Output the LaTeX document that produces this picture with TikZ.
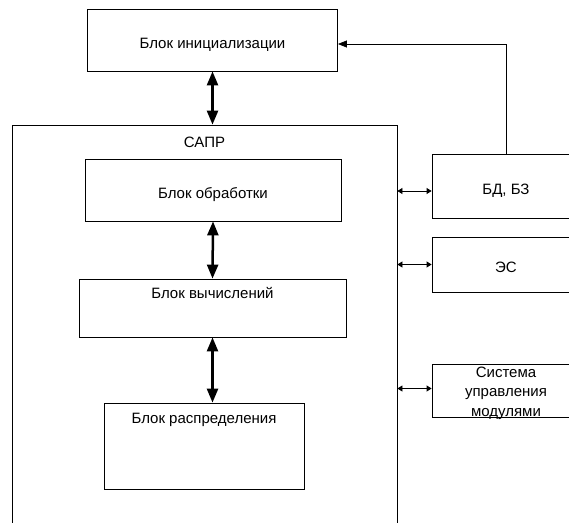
\documentclass[tikz,border=0pt]{standalone}
\usepackage{fontspec}
\setmainfont{Liberation Sans}
\usetikzlibrary{arrows.meta,positioning}
\tikzset{blk/.style={draw=black, line width=.8pt, inner sep=3pt, align=center, text height=16pt, text depth=0pt, font=\fontsize{15}{19.5}\selectfont}}
\tikzset{txt/.style={inner sep=0pt, align=center, font=\fontsize{15}{19.5}\selectfont}}
\tikzset{bigarr/.style={line width=2.5pt, {Triangle[length=14pt,width=11pt]}-{Triangle[length=14pt,width=11pt]}}}
\tikzset{smallarr/.style={line width=.8pt, {Triangle[length=5pt,width=6pt]}-{Triangle[length=5pt,width=6pt]}}}
\tikzset{feed/.style={line width=.8pt, -{Triangle[length=9pt,width=7pt]}}}

\begin{document}
\begin{tikzpicture}[x=1pt,y=-1pt]

  \useasboundingbox (0,0) rectangle (569,522);
  \clip (0,0) rectangle (569,522);

  \node[blk, minimum width=250, minimum height=62] (init) at (212.5,40) {Блок инициализации};
  \node[blk, minimum width=385, minimum height=435] (sapr) at (204.5,342.5) {};
  \node[txt] (saprlbl) at (204.5,142) {САПР};

  \node[blk, minimum width=256, minimum height=62] (proc) at (213,190) {Блок обработки};
  \node[blk, minimum width=267, minimum height=58] (calc) at (212.5,308) {};
  \node[txt, anchor=base] (calclbl) at (212.5,298) {Блок вычислений};
  \node[blk, minimum width=200, minimum height=86] (dist) at (204,446) {};
  \node[txt, anchor=base] (distlbl) at (204,423) {Блок распределения};

  \node[blk, minimum width=148, minimum height=64] (bdbz) at (506,186) {БД, БЗ};
  \node[blk, minimum width=148, minimum height=55] (es) at (506,264.5) {ЭС};
  \node[blk, minimum width=148, minimum height=53] (sum) at (506,390.5) {};
  \node[txt] (sumlbl) at (506,393) {Система\\управления\\модулями};

    \draw[bigarr] (init.south) -- (init.south |- sapr.north);
    \draw[bigarr] (proc.south) -- (calc.north);
    \draw[bigarr] (calc.south) -- (calc.south |- dist.north);

    \draw[smallarr] ([yshift=-5pt]bdbz.west -| sapr.east) -- ([yshift=-5pt]bdbz.west);
    \draw[smallarr] (es.west -| sapr.east) -- (es.west);
    \draw[smallarr] ([yshift=2pt]sum.west -| sapr.east) -- ([yshift=2pt]sum.west);

    \draw[feed] (bdbz.north) |- ([yshift=-4pt]init.east);
\end{tikzpicture}
\end{document}
